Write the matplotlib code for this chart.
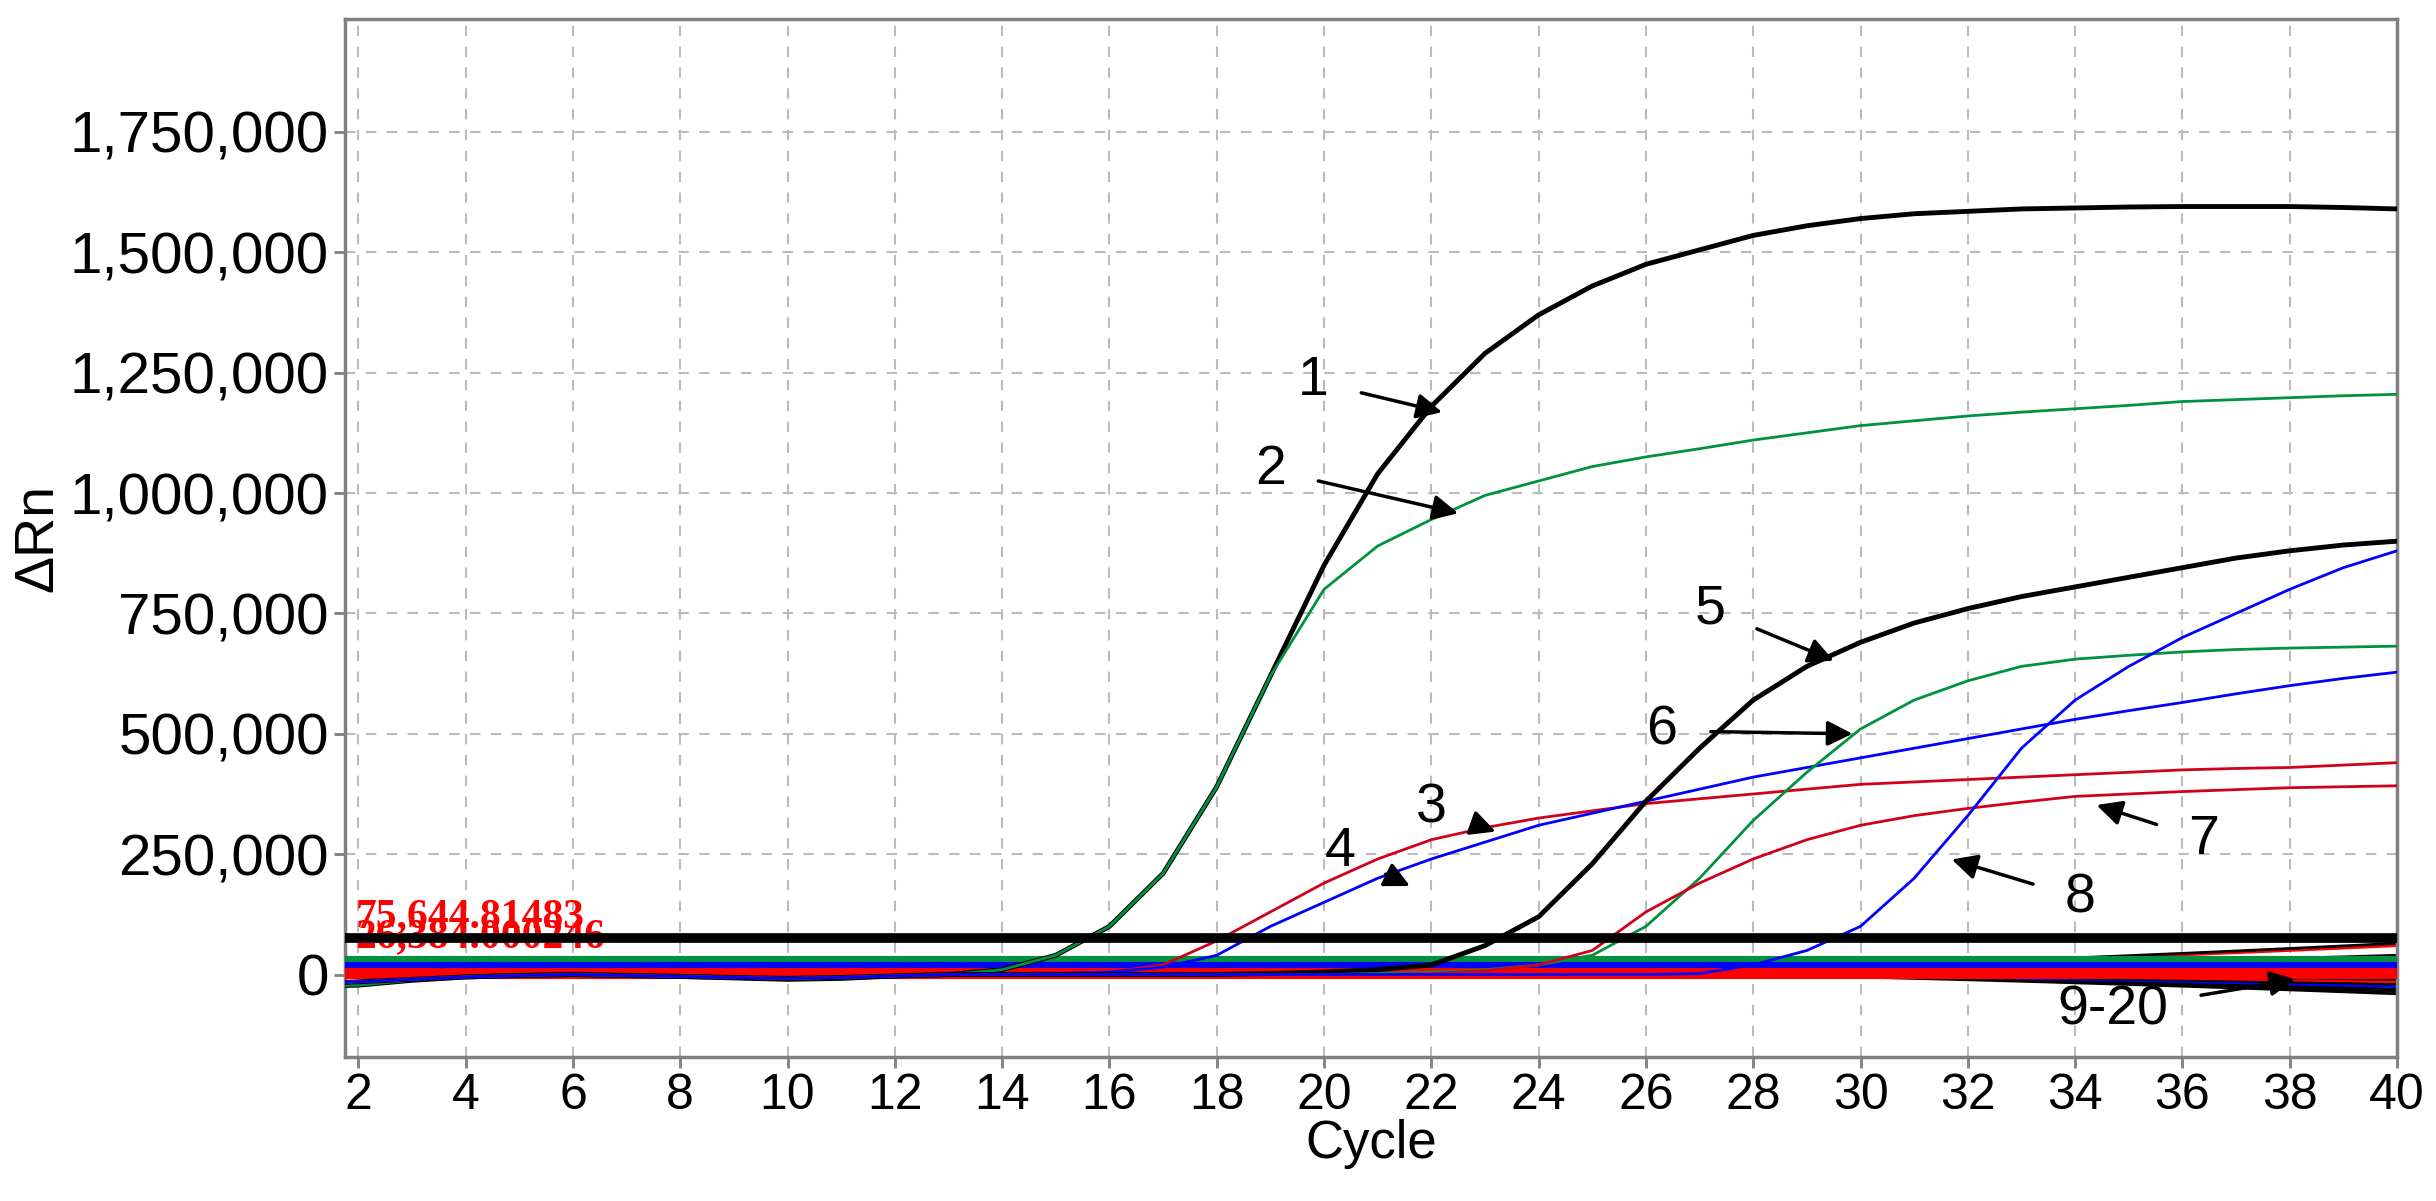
import matplotlib
matplotlib.use("Agg")
import matplotlib.pyplot as plt
from matplotlib.ticker import FuncFormatter

cycles = list(range(1, 41))
base = [-25e3,-22e3,-12e3,-5e3,-2e3,0,-2e3,-4e3,-7e3,-10e3,-8e3,-3e3,0,2e3,5e3]

c1 = [-25e3,-22e3,-12e3,-5e3,-2e3,0,-2e3,-4e3,-7e3,-10e3,-8e3,-3e3,0,10e3,40e3,100e3,210e3,390e3,620e3,850e3,
      1040e3,1180e3,1290e3,1370e3,1430e3,1475e3,1505e3,1535e3,1555e3,1570e3,1580e3,1585e3,1590e3,1592e3,1594e3,1595e3,1595e3,1595e3,1593e3,1590e3]
c2 = [-25e3,-22e3,-12e3,-5e3,-2e3,0,-2e3,-4e3,-7e3,-10e3,-8e3,-3e3,0,10e3,40e3,100e3,210e3,390e3,620e3,800e3,
      890e3,945e3,995e3,1025e3,1055e3,1075e3,1092e3,1110e3,1125e3,1140e3,1150e3,1160e3,1168e3,1175e3,1182e3,1190e3,1194e3,1198e3,1202e3,1205e3]
c3 = [-20e3,-15e3,-10e3,-5e3,-2e3,0,-2e3,-4e3,-6e3,-8e3,-6e3,-3e3,0,0,2e3,5e3,20e3,70e3,130e3,190e3,
      240e3,280e3,305e3,325e3,340e3,355e3,365e3,375e3,385e3,395e3,400e3,405e3,410e3,415e3,420e3,425e3,428e3,430e3,435e3,440e3]
c4 = [-20e3,-15e3,-10e3,-5e3,-2e3,0,-2e3,-4e3,-6e3,-8e3,-6e3,-3e3,0,0,2e3,5e3,15e3,40e3,100e3,150e3,
      200e3,240e3,275e3,310e3,335e3,360e3,385e3,410e3,430e3,450e3,470e3,490e3,510e3,530e3,548e3,565e3,583e3,600e3,615e3,628e3]
c5 = [-20e3,-15e3,-10e3,-5e3,-2e3,0,-2e3,-4e3,-6e3,-8e3,-6e3,-3e3,0,0,0,0,0,0,2e3,5e3,
      10e3,20e3,60e3,120e3,230e3,360e3,470e3,570e3,640e3,690e3,730e3,760e3,785e3,805e3,825e3,845e3,865e3,880e3,892e3,900e3]
c6 = [-20e3,-15e3,-10e3,-5e3,-2e3,0,-2e3,-4e3,-6e3,-8e3,-6e3,-3e3,0,0,0,0,0,0,0,0,
      2e3,5e3,10e3,20e3,40e3,100e3,200e3,320e3,420e3,510e3,570e3,610e3,640e3,655e3,663e3,670e3,675e3,678e3,680e3,682e3]
c7 = [-20e3,-15e3,-10e3,-5e3,-2e3,0,-2e3,-4e3,-6e3,-8e3,-6e3,-3e3,0,0,0,0,0,0,0,0,
      0,2e3,8e3,20e3,50e3,130e3,190e3,240e3,280e3,310e3,330e3,345e3,358e3,370e3,375e3,380e3,384e3,388e3,390e3,392e3]
c8 = [-20e3,-15e3,-10e3,-5e3,-2e3,0,-2e3,-4e3,-6e3,-8e3,-6e3,-3e3,0,0,0,0,0,0,0,0,
      0,0,0,0,0,0,2e3,20e3,50e3,100e3,200e3,330e3,470e3,570e3,640e3,700e3,750e3,800e3,845e3,880e3]
bg_end = [-40e3, -35e3, -30e3, -25e3, -20e3, -15e3, -10e3, 5e3, 20e3, 40e3, 60e3, 65e3]
bg_colors = ['black','black','black','blue','black','red','black','red','green','black','red','black']

thresholds = [75644.81483, 28000, 15000, 4000]
thr_colors = ['black', '#00923f', 'blue', 'red']

curves = [(c1,'black',3.5),(c2,'#00923f',2),(c3,'#d0021b',2),(c4,'blue',2),
          (c5,'black',3.5),(c6,'#00923f',2),(c7,'#d0021b',2),(c8,'blue',2)]

labels = [("1",(19.8,1232e3),(22.2,1168e3)),("2",(19.0,1048e3),(22.5,958e3)),
          ("5",(27.2,758e3),(29.5,652e3)),("6",(26.3,506e3),(29.85,500e3)),
          ("3",(22.0,345e3),(23.2,297e3)),("4",(20.3,255e3),(21.6,184e3)),
          ("7",(36.4,280e3),(34.4,352e3)),("8",(34.1,158e3),(31.7,239e3)),
          ("9-20",(34.7,-74e3),(38.1,-10e3))]

plt.rcParams['font.family'] = ['Liberation Sans', 'DejaVu Sans']
fig = plt.figure(figsize=(24.36, 12.01), dpi=100)
ax = fig.add_axes([0.1416, 0.12, 0.8424, 0.864])

for e, col in zip(bg_end, bg_colors):
    ys = []
    for i, c in enumerate(cycles):
        b = base[i] if i < len(base) else 5e3
        if c > 24:
            b = 5e3 + (e - 5e3) * ((c - 24) / 16) ** 1.5
        ys.append(b)
    ax.plot(cycles, ys, color=col, lw=2)

for t, col in zip(thresholds[1:], thr_colors[1:]):
    ax.axhline(t, color=col, lw=8, zorder=3)

for ys, col, lw in curves:
    ax.plot(cycles, ys, color=col, lw=lw, zorder=4)

ax.axhline(thresholds[0], color='black', lw=7, zorder=5)

ax.text(1.95, 80e3, "75,644.81483", color='red', fontsize=30, fontweight='bold',
        family='Liberation Serif', va='bottom', zorder=6)
ax.text(1.95, 38e3, "26,384.000246", color='red', fontsize=30, fontweight='bold',
        family='Liberation Serif', va='bottom', zorder=2)

for txt, xyt, xy in labels:
    ax.annotate(txt, xy=xy, xytext=xyt, fontsize=40, ha='center', va='center',
                arrowprops=dict(arrowstyle='-|>', color='black', lw=2.5, mutation_scale=38,
                                shrinkA=22, shrinkB=0), zorder=7)

ax.set_xlim(1.75, 40)
ax.set_ylim(-171e3, 1984e3)
ax.set_xticks(range(2, 41, 2))
ax.set_yticks(range(0, 1750001, 250000))
ax.yaxis.set_major_formatter(FuncFormatter(lambda v, p: f"{int(v):,}"))
ax.tick_params(labelsize=42, length=8, width=2, color='gray')
ax.tick_params(axis='x', labelsize=36)
ax.grid(True, ls=(0, (5, 5)), color='#bbbbbb', lw=1.5)
for s in ax.spines.values():
    s.set_color('gray'); s.set_linewidth(2.5)
ax.set_xlabel("Cycle", fontsize=38, labelpad=0)
ax.set_ylabel("ΔRn", fontsize=40)
fig.savefig("out.png", dpi=100)
